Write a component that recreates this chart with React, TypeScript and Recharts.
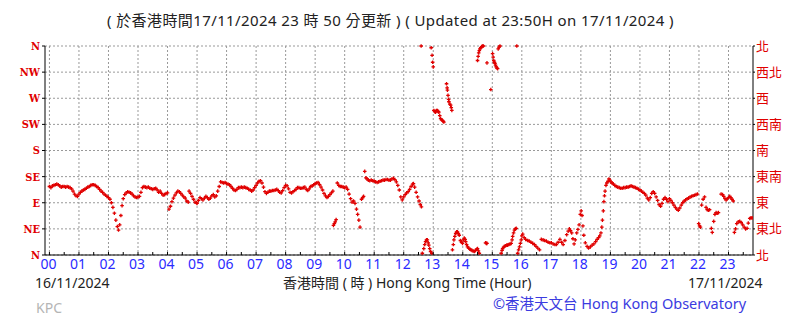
import React from 'react'
import { ScatterChart, Scatter, XAxis, YAxis, CartesianGrid } from 'recharts'

// wind direction readings, [hour of day, degrees from north]
const nightReadings: [number, number][] = [
  [0.0, 118], [0.05, 116], [0.1, 119], [0.15, 120], [0.2, 121], [0.25, 122], [0.3, 121], [0.35, 119], [0.4, 117], [0.45, 118],
  [0.5, 118], [0.55, 117], [0.6, 118], [0.65, 117], [0.7, 116], [0.75, 114], [0.8, 110], [0.85, 105], [0.9, 102], [0.95, 101],
  [1.0, 105], [1.05, 108], [1.1, 110], [1.15, 112], [1.2, 113], [1.25, 115], [1.3, 117], [1.35, 118], [1.4, 120], [1.45, 121],
  [1.5, 121], [1.55, 120], [1.6, 118], [1.65, 116], [1.7, 113], [1.75, 110], [1.8, 108], [1.85, 105], [1.9, 103], [1.95, 101],
  [2.0, 99], [2.05, 96], [2.1, 90], [2.15, 82], [2.2, 72], [2.25, 60], [2.3, 49], [2.34, 43], [2.38, 52], [2.42, 68],
  [2.46, 85], [2.5, 97], [2.55, 104], [2.6, 107], [2.65, 109], [2.7, 108], [2.75, 107], [2.8, 105], [2.85, 102], [2.9, 100], [2.95, 99],
  [3.0, 100], [3.05, 101], [3.1, 108], [3.15, 116], [3.2, 118], [3.25, 117], [3.3, 116], [3.35, 117], [3.4, 115], [3.45, 114],
  [3.5, 113], [3.55, 114], [3.6, 115], [3.65, 112], [3.7, 108], [3.75, 110], [3.8, 106], [3.85, 103], [3.9, 104], [3.95, 106],
  [4.0, 107], [4.05, 79], [4.1, 84], [4.15, 92], [4.2, 98], [4.25, 103], [4.3, 107], [4.35, 110], [4.4, 109], [4.45, 106],
  [4.5, 103], [4.55, 100], [4.6, 98], [4.65, 93], [4.7, 91], [4.73, 110], [4.78, 106], [4.83, 101], [4.88, 96], [4.93, 91], [4.98, 90],
  [5.0, 89], [5.05, 94], [5.1, 99], [5.15, 97], [5.2, 95], [5.25, 98], [5.3, 101], [5.35, 99], [5.4, 96], [5.45, 98],
  [5.5, 102], [5.55, 104], [5.6, 100], [5.65, 102], [5.7, 110], [5.75, 118], [5.8, 126], [5.85, 125], [5.9, 124], [5.95, 125],
]

const morningReadings: [number, number][] = [
  [6.0, 123], [6.05, 122], [6.1, 121], [6.15, 118], [6.2, 115], [6.25, 112], [6.3, 111], [6.35, 113], [6.4, 116], [6.45, 116],
  [6.5, 117], [6.55, 116], [6.6, 117], [6.65, 116], [6.7, 115], [6.75, 113], [6.8, 112], [6.85, 110], [6.9, 112], [6.95, 116],
  [7.0, 120], [7.05, 124], [7.1, 127], [7.15, 128], [7.2, 124], [7.25, 117], [7.3, 109], [7.35, 106], [7.4, 108], [7.45, 110],
  [7.5, 110], [7.55, 111], [7.6, 111], [7.65, 112], [7.7, 113], [7.75, 111], [7.8, 108], [7.85, 107], [7.9, 111], [7.95, 116],
  [8.0, 120], [8.05, 119], [8.1, 114], [8.15, 108], [8.2, 107], [8.25, 109], [8.3, 111], [8.35, 113], [8.4, 116], [8.45, 116],
  [8.5, 115], [8.55, 115], [8.6, 116], [8.65, 117], [8.7, 113], [8.75, 111], [8.8, 114], [8.85, 118], [8.9, 119], [8.95, 121],
  [9.0, 123], [9.05, 124], [9.1, 125], [9.15, 121], [9.2, 117], [9.25, 112], [9.3, 106], [9.35, 102], [9.4, 99], [9.45, 101],
  [9.5, 104], [9.55, 107], [9.6, 110], [9.62, 51], [9.65, 54], [9.68, 57], [9.71, 61], [9.75, 124], [9.8, 120], [9.85, 118], [9.9, 118], [9.95, 117],
  [10.0, 116], [10.05, 117], [10.1, 113], [10.15, 105], [10.2, 97], [10.25, 91], [10.3, 93], [10.35, 89], [10.4, 79], [10.44, 70],
  [10.48, 60], [10.52, 48], [10.57, 96], [10.61, 99], [10.64, 101], [10.68, 144], [10.72, 133], [10.76, 131], [10.8, 129], [10.85, 128],
  [10.9, 129], [10.95, 128], [11.0, 127], [11.05, 126], [11.1, 125], [11.15, 126], [11.2, 127], [11.25, 128], [11.3, 129], [11.35, 129],
  [11.4, 130], [11.45, 130], [11.5, 129], [11.55, 129], [11.6, 131], [11.65, 132], [11.7, 130], [11.75, 126], [11.8, 120], [11.85, 112],
  [11.9, 100], [11.95, 95],
]

const afternoonReadings: [number, number][] = [
  [12.0, 100], [12.05, 104], [12.1, 107], [12.15, 109], [12.2, 113], [12.25, 118], [12.3, 122], [12.33, 123], [12.37, 117], [12.42, 108],
  [12.47, 100], [12.52, 93], [12.56, 87], [12.6, 83], [12.59, 360], [12.63, 3], [12.68, 11], [12.71, 18], [12.74, 23], [12.77, 26],
  [12.8, 26], [12.83, 21], [12.85, 17], [12.88, 11], [12.91, 6], [12.95, 3], [12.93, 357], [12.96, 344], [12.98, 332], [13.0, 324],
  [13.02, 249], [13.05, 247], [13.08, 246], [13.11, 249], [13.14, 249], [13.17, 247], [13.19, 246], [13.22, 240], [13.25, 235], [13.28, 233],
  [13.31, 232], [13.34, 230], [13.36, 229], [13.45, 295], [13.47, 288], [13.48, 284], [13.5, 275], [13.52, 268], [13.53, 264], [13.56, 260],
  [13.59, 258], [13.61, 254], [13.63, 249], [13.65, 9], [13.68, 18], [13.7, 26], [13.73, 32], [13.76, 37], [13.79, 40], [13.82, 40],
  [13.85, 37], [13.88, 34], [13.92, 25], [13.96, 22], [13.99, 20], [14.02, 26], [14.05, 29], [14.08, 27], [14.1, 23], [14.13, 18],
  [14.16, 14], [14.2, 12], [14.24, 10], [14.27, 9], [14.31, 8], [14.35, 7], [14.39, 6], [14.43, 8], [14.47, 10], [14.5, 11],
  [14.53, 7], [14.56, 3], [14.77, 21], [14.8, 20], [14.82, 20], [14.5, 335], [14.52, 342], [14.54, 348], [14.56, 352], [14.58, 355],
  [14.61, 357], [14.64, 359], [14.67, 360], [14.7, 360], [14.82, 331], [14.95, 285], [15.01, 347], [15.03, 341], [15.05, 335], [15.07, 332],
  [15.09, 330], [15.11, 327], [15.13, 324], [15.16, 322], [15.18, 321], [15.2, 355], [15.23, 358], [15.26, 360], [15.83, 360], [15.3, 3],
  [15.33, 8], [15.35, 11], [15.38, 13], [15.41, 15], [15.45, 16], [15.49, 17], [15.52, 17], [15.56, 18], [15.6, 19], [15.64, 20],
  [15.67, 26], [15.69, 32], [15.72, 38], [15.75, 43], [15.78, 45], [15.81, 46], [15.86, 3], [15.89, 9], [15.92, 14], [15.95, 20],
  [15.98, 26], [16.0, 33], [16.03, 36], [16.08, 30], [16.13, 27], [16.2, 25], [16.25, 24], [16.31, 22], [16.37, 20], [16.43, 18],
  [16.48, 15], [16.54, 12], [16.6, 9], [16.66, 27], [16.72, 26], [16.77, 25], [16.83, 24], [16.89, 22], [16.95, 21],
  [17.0, 21], [17.06, 19], [17.12, 18], [17.17, 18], [17.23, 22], [17.29, 27], [17.35, 22], [17.4, 18], [17.46, 25], [17.52, 35],
  [17.57, 41], [17.61, 45], [17.65, 42], [17.69, 38], [17.73, 28], [17.77, 19], [17.81, 26], [17.86, 38], [17.9, 44], [17.94, 52],
  [17.98, 70], [18.01, 76], [18.04, 68], [18.07, 50], [18.1, 34], [18.15, 21], [18.21, 15], [18.26, 12],
]

const eveningReadings: [number, number][] = [
  [18.32, 14], [18.38, 17], [18.44, 19], [18.5, 23], [18.55, 27], [18.6, 30], [18.64, 33], [18.68, 38], [18.71, 48], [18.73, 60],
  [18.76, 76], [18.78, 92], [18.8, 102], [18.82, 110], [18.85, 120], [18.88, 124], [18.92, 127], [18.95, 131], [18.98, 129],
  [19.02, 126], [19.06, 124], [19.1, 122], [19.15, 120], [19.2, 118], [19.25, 117], [19.3, 116], [19.35, 115], [19.4, 115], [19.45, 116],
  [19.5, 116], [19.55, 117], [19.6, 117], [19.65, 118], [19.7, 119], [19.75, 118], [19.8, 117], [19.85, 116], [19.9, 115], [19.95, 113],
  [20.0, 112], [20.05, 110], [20.1, 108], [20.15, 106], [20.2, 103], [20.25, 98], [20.3, 95], [20.35, 99], [20.4, 106], [20.45, 109],
  [20.5, 106], [20.55, 100], [20.6, 94], [20.65, 87], [20.7, 84], [20.75, 89], [20.8, 96], [20.85, 99], [20.9, 96], [20.95, 92],
  [21.0, 97], [21.05, 94], [21.1, 90], [21.15, 86], [21.2, 82], [21.25, 79], [21.3, 77], [21.35, 81], [21.4, 86], [21.45, 90],
  [21.5, 93], [21.55, 95], [21.6, 97], [21.65, 98], [21.7, 100], [21.75, 101], [21.8, 102], [21.85, 103], [21.9, 104], [21.95, 105],
  [21.99, 54], [22.02, 50], [22.05, 48], [22.09, 86], [22.14, 96], [22.19, 100], [22.24, 82], [22.28, 78], [22.32, 77], [22.36, 78],
  [22.42, 46], [22.45, 39], [22.5, 58], [22.54, 70], [22.58, 73], [22.62, 72], [22.66, 73], [22.75, 105], [22.8, 104], [22.84, 101],
  [22.88, 97], [22.92, 95], [22.96, 97], [23.0, 99], [23.04, 101], [23.08, 99], [23.12, 96], [23.16, 93], [23.2, 39], [23.24, 45],
  [23.28, 54], [23.33, 57], [23.38, 58], [23.43, 56], [23.48, 52], [23.53, 48], [23.58, 45], [23.63, 46], [23.67, 55], [23.72, 63],
  [23.76, 64], [23.8, 64],
]

const directionTicks = [0, 45, 90, 135, 180, 225, 270, 315, 360]
const directionLabelsEn = ['N', 'NE', 'E', 'SE', 'S', 'SW', 'W', 'NW', 'N']
const directionLabelsZh = ['北', '東北', '東', '東南', '南', '西南', '西', '西北', '北']
const hourTicks = Array.from({ length: 24 }, (_, i) => i)
const halfHourTicks = Array.from({ length: 48 }, (_, i) => i / 2)

const points = [...nightReadings, ...morningReadings, ...afternoonReadings, ...eveningReadings].map(([hour, dir]) => ({
  hour,
  dir,
}))

const RED = '#e00000'
const BLUE = '#2b2bff'
const SANS = '"Noto Sans", "Noto Sans CJK TC", sans-serif'
const CJK = '"Noto Sans CJK TC", sans-serif'

function Plus(props: any) {
  const { cx, cy } = props
  if (cx == null || cy == null) return null
  return (
    <path
      d={`M${cx - 1.8},${cy}h3.6M${cx},${cy - 1.8}v3.6`}
      stroke={RED}
      strokeWidth={1.3}
      fill="none"
    />
  )
}

function HourTick(props: any) {
  const { x, y, payload } = props
  const v = payload.value
  const isHour = Number.isInteger(v)
  return (
    <g>
      <line x1={x} x2={x} y1={y} y2={y - 3} stroke="#000" strokeWidth={1} />
      {isHour && (
        <text x={x - 1} y={y + 14} textAnchor="middle" fontSize={14} fill={BLUE} fontFamily={SANS}>
          {String(v).padStart(2, '0')}
        </text>
      )}
    </g>
  )
}

export default function App() {
  const textStyle: React.CSSProperties = {
    position: 'absolute',
    whiteSpace: 'nowrap',
    fontFamily: SANS,
    fontSize: 14,
    lineHeight: '18px',
    color: '#222',
  }
  return (
    <div style={{ position: 'absolute', left: 0, top: 0, width: 803, height: 317, background: '#fff' }}>
      <div style={{ ...textStyle, left: 107, top: 11, fontSize: 15, letterSpacing: 0.4 }}>
        ( 於香港時間17/11/2024 23 時 50 分更新 ) ( Updated at 23:50H on 17/11/2024 )
      </div>
      <ScatterChart width={803} height={317} margin={{ top: 46, right: 0, bottom: 0, left: 0 }}>
        <CartesianGrid
          yAxisId="left"
          stroke="#999"
          strokeDasharray="2 2"
          verticalValues={hourTicks}
          horizontalValues={directionTicks}
        />
        <XAxis
          type="number"
          dataKey="hour"
          domain={[-0.15, 23.83]}
          ticks={halfHourTicks}
          interval={0}
          height={62}
          tickSize={0}
          tickMargin={0}
          tickLine={false}
          axisLine={{ stroke: '#000' }}
          tick={<HourTick />}
          allowDataOverflow
        />
        <YAxis
          yAxisId="left"
          type="number"
          dataKey="dir"
          domain={[0, 360]}
          ticks={directionTicks}
          interval={0}
          width={45}
          tickSize={3}
          tickMargin={2}
          axisLine={{ stroke: '#000' }}
          tickLine={{ stroke: '#000' }}
          tickFormatter={(v: number) => directionLabelsEn[directionTicks.indexOf(v)]}
          tick={{ fill: RED, fontSize: 11, fontFamily: '"DejaVu Serif", serif', fontWeight: 'bold', fontStretch: 'condensed' }}
        />
        <YAxis
          yAxisId="right"
          orientation="right"
          type="number"
          dataKey="dir"
          domain={[0, 360]}
          ticks={directionTicks}
          interval={0}
          width={50}
          tickSize={2}
          tickMargin={1}
          axisLine={{ stroke: '#000' }}
          tickLine={{ stroke: '#000' }}
          tickFormatter={(v: number) => directionLabelsZh[directionTicks.indexOf(v)]}
          tick={{ fill: RED, fontSize: 13, fontFamily: CJK }}
        />
        <Scatter yAxisId="left" data={points} shape={<Plus />} isAnimationActive={false} />
        <Scatter yAxisId="right" data={points} shape={() => <g />} isAnimationActive={false} />
      </ScatterChart>
      <div style={{ ...textStyle, left: 35, top: 274 }}>16/11/2024</div>
      <div style={{ ...textStyle, left: 283, top: 274 }}>香港時間 ( 時 ) Hong Kong Time (Hour)</div>
      <div style={{ ...textStyle, left: 688, top: 274 }}>17/11/2024</div>
      <div style={{ ...textStyle, left: 493, top: 294, fontSize: 14.5, color: '#3b3be0' }}>
        ©香港天文台 Hong Kong Observatory
      </div>
      <div style={{ ...textStyle, left: 36, top: 299, color: '#b5b5b5' }}>KPC</div>
    </div>
  )
}
